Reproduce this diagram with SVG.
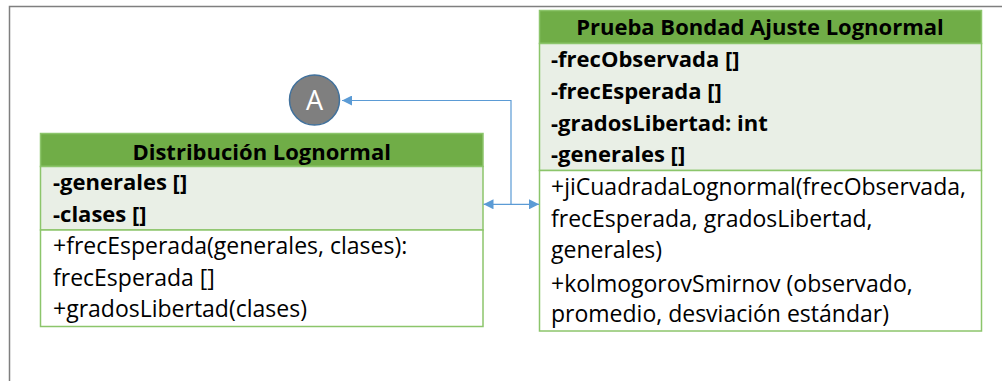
<svg xmlns="http://www.w3.org/2000/svg" width="1002" height="381" viewBox="0 0 1002 381">
<defs>
<style>
.frame{fill:none;stroke:#7f7f7f;stroke-width:1.5}
.hdr{fill:#70ad47;stroke:#8cc56b;stroke-width:1.5}
.att{fill:#e9efe6;stroke:#8cc56b;stroke-width:1.5}
.mth{fill:#ffffff;stroke:#8cc56b;stroke-width:1.5}
text{font-family:"Open Sans","Liberation Sans",sans-serif;font-size:23px;fill:#000}
.b{font-weight:bold;font-size:22px}
.t{font-weight:bold;font-size:22px;text-anchor:middle}
.conn{fill:none;stroke:#5b9bd5;stroke-width:1.2}
</style>
<marker id="ah" viewBox="0 0 10 10" refX="10" refY="5" markerWidth="10" markerHeight="10" markerUnits="userSpaceOnUse" orient="auto-start-reverse">
<path d="M0,0 L10,5 L0,10 Z" fill="#5b9bd5"/>
</marker>
</defs>
<path class="frame" d="M9.5,381 V6.5 H1002"/>
<g id="node-distribucion">
<rect class="hdr" x="40.5" y="133.5" width="442.5" height="33"/>
<rect class="att" x="40.5" y="166.5" width="442.5" height="63.5"/>
<rect class="mth" x="40.5" y="230" width="442.5" height="96.5"/>
<text class="t" x="261.7" y="160">Distribución Lognormal</text>
<text class="b" x="53" y="190">-generales []</text>
<text class="b" x="53" y="222">-clases []</text>
<text x="53" y="254">+frecEsperada(generales, clases):</text>
<text x="53" y="286">frecEsperada []</text>
<text x="53" y="317">+gradosLibertad(clases)</text>
</g>
<g id="node-prueba">
<rect class="hdr" x="539.5" y="10.5" width="442" height="33"/>
<rect class="att" x="539.5" y="43.5" width="442" height="127"/>
<rect class="mth" x="539.5" y="170.5" width="442" height="160.5"/>
<text class="t" x="760" y="35">Prueba Bondad Ajuste Lognormal</text>
<text class="b" x="551" y="66.7">-frecObservada []</text>
<text class="b" x="551" y="99">-frecEsperada []</text>
<text class="b" x="551" y="130.7">-gradosLibertad: int</text>
<text class="b" x="551" y="162.3">-generales []</text>
<text x="551" y="195">+jiCuadradaLognormal(frecObservada,</text>
<text x="551" y="226.7">frecEsperada, gradosLibertad,</text>
<text x="551" y="258.3">generales)</text>
<text x="551" y="291.7">+kolmogorovSmirnov (observado,</text>
<text x="551" y="321.7">promedio, desviación estándar)</text>
</g>
<g id="node-A">
<circle cx="314.5" cy="100" r="25" fill="#7f7f7f" stroke="#41719c" stroke-width="1.5"/>
<text x="314.5" y="109.5" style="fill:#fff;font-size:27px;text-anchor:middle">A</text>
</g>
<g id="connectors">
<path class="conn" d="M483.5,204.3 H539" marker-start="url(#ah)" marker-end="url(#ah)"/>
<path class="conn" d="M511,204.3 V100.5 H342" marker-end="url(#ah)"/>
</g>
</svg>
